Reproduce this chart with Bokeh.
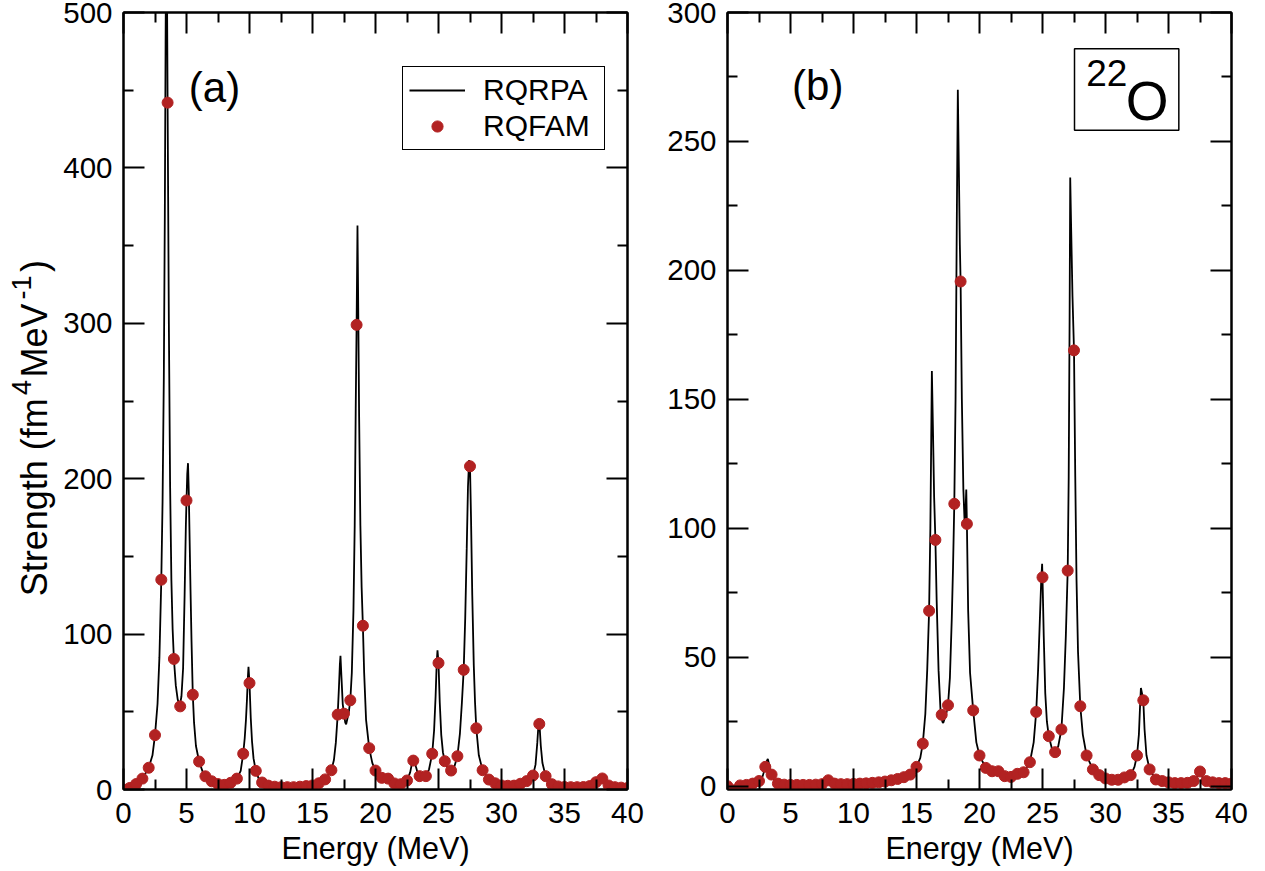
from bokeh.plotting import figure
from bokeh.layouts import row
from bokeh.models import (Range1d, FixedTicker, LinearAxis, Legend, LegendItem,
                          Label, BoxAnnotation)
from bokeh.embed import file_html
from bokeh.resources import INLINE
import math

FONT = "Liberation Sans"

# ---------------- data ----------------
ENERGY_GRID = [0.0, 0.5, 1.0, 1.5, 2.0, 2.5, 3.0, 3.5, 4.0, 4.5, 5.0, 5.5, 6.0, 6.5, 7.0, 7.5,
               8.0, 8.5, 9.0, 9.5, 10.0, 10.5, 11.0, 11.5, 12.0, 12.5, 13.0, 13.5, 14.0, 14.5,
               15.0, 15.5, 16.0, 16.5, 17.0, 17.5, 18.0, 18.5, 19.0, 19.5, 20.0, 20.5, 21.0,
               21.5, 22.0, 22.5, 23.0, 23.5, 24.0, 24.5, 25.0, 25.5, 26.0, 26.5, 27.0, 27.5,
               28.0, 28.5, 29.0, 29.5, 30.0, 30.5, 31.0, 31.5, 32.0, 32.5, 33.0, 33.5, 34.0,
               34.5, 35.0, 35.5, 36.0, 36.5, 37.0, 37.5, 38.0, 38.5, 39.0, 39.5, 40.0]

RQFAM_A = [0, 1, 3.5, 7, 14, 35, 135, 442, 84, 53.5, 186, 61, 18, 8.5, 5.3, 3.5,
           3, 4.3, 7, 23, 68.5, 12, 4.5, 2.5, 1.8, 1.5, 1.5, 1.5, 1.8, 2.2,
           2.6, 4, 6.5, 12.4, 48.2, 48.8, 57.4, 299, 105.4, 26.6, 12.2, 7.5, 7,
           3.9, 3.4, 5.8, 18.6, 8.6, 8.6, 23, 81.4, 18.2, 12.2, 21.4, 77, 208,
           39.4, 12.4, 6.4, 4, 2.6, 2.4, 2.5, 3.7, 5.4, 9, 42.2, 8.6, 3.4,
           2, 1.6, 1.5, 1.5, 1.6, 2.2, 4.7, 7.1, 2.6, 1.5, 1.2, 1]

RQFAM_B = [0, -1.6, 0.3, 0.5, 1, 2, 7.5, 4.5, 1, 0.6, 0.5, 0.5, 0.5, 0.5, 0.6, 0.8,
           2.3, 1, 0.8, 0.8, 0.9, 1, 1.1, 1.3, 1.5, 1.8, 2.3, 2.8, 3.5, 4.5,
           7.5, 16.5, 68, 95.5, 27.7, 31.4, 109.5, 195.7, 101.7, 29.4, 11.9, 7.1, 5.8,
           5.8, 3.9, 3.6, 4.8, 5.4, 9.3, 28.8, 81, 19.4, 13.2, 22, 83.6, 169,
           31, 11.9, 6.5, 4.3, 3, 2.5, 2.5, 3.4, 4.3, 11.9, 33.3, 6.5, 2.6,
           2, 1.5, 1.2, 1.2, 1.3, 2, 5.7, 2, 1.5, 1.2, 1.2, 1]

RQRPA_A_E = [0.0, 0.5, 1.0, 1.5, 2.0, 2.3, 2.5, 2.7, 2.85, 3.0, 3.1, 3.2, 3.28, 3.34, 3.4,
             3.45, 3.5, 3.6, 3.7, 3.8, 3.9, 4.0, 4.15, 4.3, 4.47, 4.6, 4.73, 4.85, 4.95,
             5.0, 5.06, 5.12, 5.18, 5.25, 5.32, 5.4, 5.5, 5.6, 5.75, 6.0, 6.3, 6.5, 7.0,
             7.5, 8.0, 8.5, 9.0, 9.3, 9.5, 9.62, 9.72, 9.8, 9.87, 9.92, 10.0, 10.1, 10.2,
             10.32, 10.5, 10.75, 11.0, 11.5, 12.0, 13.0, 14.0, 14.5, 15.0, 15.5, 16.0,
             16.5, 16.7, 16.85, 17.0, 17.1, 17.17, 17.22, 17.3, 17.4, 17.5, 17.6, 17.67,
             17.78, 17.9, 18.0, 18.12, 18.25, 18.35, 18.43, 18.5, 18.57, 18.63, 18.7,
             18.8, 18.9, 19.0, 19.1, 19.25, 19.5, 19.75, 20.0, 20.5, 20.8, 21.0, 21.2,
             21.5, 22.0, 22.5, 22.75, 22.9, 23.0, 23.08, 23.2, 23.35, 23.5, 23.8, 24.0,
             24.25, 24.5, 24.65, 24.77, 24.86, 24.92, 25.0, 25.1, 25.22, 25.35, 25.5,
             25.75, 26.0, 26.25, 26.5, 26.7, 26.85, 27.0, 27.12, 27.24, 27.34, 27.43,
             27.5, 27.58, 27.68, 27.8, 27.9, 28.0, 28.2, 28.5, 29.0, 29.5, 30.0, 30.5,
             31.0, 31.5, 32.0, 32.5, 32.7, 32.84, 32.92, 32.97, 33.03, 33.12, 33.25,
             33.5, 34.0, 34.5, 35.0, 36.0, 37.0, 37.5, 37.8, 37.95, 38.1, 38.3, 38.5,
             39.0, 39.5, 40.0]
RQRPA_A_S = [0.3, 1.0, 3.5, 7, 14, 22, 35, 55, 85, 135, 185, 265, 370, 480, 575,
             520, 442, 300, 195, 135, 103, 84, 67, 58, 54, 60, 78, 125, 170,
             186, 203, 210, 192, 160, 128, 95, 61, 43, 28, 18, 11, 8.5, 5.3,
             3.5, 3.0, 4.3, 7, 12, 23, 33, 45, 58, 72, 79, 68.5, 46, 31,
             20, 12, 6.5, 4.5, 2.5, 1.8, 1.5, 1.8, 2.2, 2.6, 4, 6.5,
             12.4, 19, 30, 48, 66, 80, 86, 72, 55, 48.8, 43, 42,
             46, 51, 57.4, 75, 115, 170, 245, 299, 363, 310, 240,
             170, 130, 105, 75, 45, 26.6, 17, 12.2, 7.5, 6.8, 7, 5.5,
             3.9, 3.4, 5.8, 11, 17, 18.6, 19.5, 15, 10.5, 8.6, 7.8, 8.6,
             13, 23, 38, 60, 82, 89.5, 81.4, 56, 35, 24, 18.2,
             13.5, 12.2, 14.5, 21.4, 36, 55, 77, 110, 155, 195, 212,
             208, 175, 125, 80, 56, 39.4, 22, 12.4, 6.4, 4, 2.6, 2.4,
             2.5, 3.7, 5.4, 9, 16, 30, 40, 43.5, 40, 28, 17,
             8.6, 3.4, 2, 1.6, 1.5, 2.2, 4.7, 6.8, 7.3, 6, 3.8, 2.6,
             1.5, 1.2, 1]

RQRPA_B_E = [0.0, 0.5, 1.0, 1.5, 2.0, 2.5, 2.8, 3.0, 3.1, 3.2, 3.3, 3.5, 3.75, 4.0, 4.5,
             5.0, 6.0, 7.0, 7.5, 8.0, 8.5, 9.0, 10.0, 11.0, 12.0, 13.0, 13.5, 14.0, 14.5,
             15.0, 15.3, 15.5, 15.7, 15.85, 16.0, 16.1, 16.17, 16.22, 16.3, 16.4, 16.5,
             16.6, 16.75, 16.9, 17.05, 17.12, 17.25, 17.4, 17.5, 17.65, 17.8, 17.9, 18.0,
             18.1, 18.2, 18.28, 18.36, 18.44, 18.5, 18.6, 18.72, 18.82, 18.9, 18.95, 19.0,
             19.1, 19.25, 19.5, 19.75, 20.0, 20.5, 20.85, 21.0, 21.15, 21.5, 22.0, 22.5,
             23.0, 23.5, 24.0, 24.3, 24.5, 24.65, 24.8, 24.9, 24.97, 25.0, 25.1, 25.22,
             25.35, 25.5, 25.75, 26.0, 26.25, 26.5, 26.7, 26.85, 27.0, 27.08, 27.15, 27.2,
             27.28, 27.38, 27.5, 27.6, 27.7, 27.82, 28.0, 28.2, 28.5, 29.0, 29.5, 30.0,
             30.5, 31.0, 31.5, 32.0, 32.3, 32.5, 32.65, 32.75, 32.81, 32.9, 33.0, 33.1,
             33.25, 33.5, 34.0, 34.5, 35.0, 36.0, 36.5, 37.0, 37.3, 37.45, 37.6, 37.8,
             38.0, 39.0, 40.0]
RQRPA_B_S = [0, 0.1, 0.3, 0.5, 1, 2, 4, 7.5, 9.5, 10.6, 8.5, 4.5, 2, 1, 0.6,
             0.5, 0.5, 0.6, 0.8, 1.2, 1, 0.8, 0.9, 1.1, 1.5, 2.3, 2.8, 3.5, 4.5,
             7.5, 11, 16.5, 28, 45, 68, 100, 135, 161, 140, 112, 95.5,
             72, 45, 30, 25, 24.5, 26.5, 29, 31.4, 42, 65, 85, 109.5,
             150, 220, 270, 240, 210, 195.7, 150, 115, 102, 108, 115, 101.7,
             68, 44, 29.4, 17, 11.9, 7.1, 6.2, 7.5, 6.2, 5.8, 3.9, 3.6,
             4.8, 5.4, 9.3, 17, 28.8, 45, 66, 80, 86.2, 81, 58, 36,
             25, 19.4, 14.5, 13.2, 15.5, 22, 38, 58, 83.6, 120, 180, 236,
             215, 190, 169, 120, 80, 52, 31, 20, 11.9, 6.5, 4.3, 3,
             2.5, 2.5, 3.4, 4.3, 7.5, 11.9, 20, 32, 38.1, 36, 33.3, 22,
             12, 6.5, 2.6, 2, 1.5, 1.2, 1.3, 2, 3.8, 5.7, 4.2, 2.6,
             2, 1.2, 1]

X_TICKS = [0, 5, 10, 15, 20, 25, 30, 35, 40]
X_MINOR = [2.5, 7.5, 12.5, 17.5, 22.5, 27.5, 32.5, 37.5]
Y_TICKS_A = [0, 100, 200, 300, 400, 500]
Y_MINOR_A = [50, 150, 250, 350, 450]
Y_TICKS_B = [0, 50, 100, 150, 200, 250, 300]
Y_MINOR_B = [25, 75, 125, 175, 225, 275]

SERIES_NAMES = ["RQRPA", "RQFAM"]
X_TITLE = "Energy (MeV)"
# y title pieces: (text, is_superscript, gap after it in px)
Y_TITLE_PARTS = [("Strength (fm", False, 16), ("4", True, 8), ("MeV", False, 10),
                 ("-1", True, 6), (")", False, 0)]
DOT_COLOR = "#B22222"

# Arial-metric advance widths (per 1000 em) used to chain the y-title pieces
ADV = {"S": 667, "t": 278, "r": 333, "e": 556, "n": 556, "g": 556, "h": 556, " ": 278,
       "(": 333, ")": 333, "f": 278, "m": 833, "M": 833, "V": 667, "4": 556, "-": 333, "1": 556}

PAGE_H = 867
TITLE_W = 60


def style_axis(ax, show_labels, label_standoff):
    ax.axis_line_color = "black"
    ax.axis_line_width = 2
    ax.major_tick_line_color = "black"
    ax.minor_tick_line_color = "black"
    ax.major_tick_line_width = 2
    ax.minor_tick_line_width = 2
    ax.major_tick_in = 21
    ax.major_tick_out = 0
    ax.minor_tick_in = 10
    ax.minor_tick_out = 0
    ax.major_label_text_font = FONT
    if show_labels:
        ax.major_label_text_color = "black"
        ax.major_label_text_font_size = "29.5px"
        ax.major_label_standoff = label_standoff
    else:
        ax.major_label_text_color = None
        ax.major_label_text_alpha = 0
        ax.major_label_text_font_size = "1px"
        ax.major_label_standoff = 0
    ax.axis_label_text_font = FONT
    ax.axis_label_text_font_size = "30.5px"
    ax.axis_label_text_font_style = "normal"
    ax.axis_label_text_color = "black"


def make_panel(width, y_lo, y_hi, yt, ym, left_border, right_border):
    p = figure(width=width, height=PAGE_H, x_range=Range1d(0, 40), y_range=Range1d(y_lo, y_hi),
               output_backend="svg", toolbar_location=None,
               min_border_left=left_border, min_border_right=right_border,
               min_border_top=12, min_border_bottom=77)
    p.background_fill_color = "white"
    p.border_fill_color = "white"
    p.outline_line_color = "black"
    p.outline_line_width = 2
    p.xgrid.visible = False
    p.ygrid.visible = False
    p.xaxis.ticker = FixedTicker(ticks=X_TICKS, minor_ticks=X_MINOR)
    p.yaxis.ticker = FixedTicker(ticks=yt, minor_ticks=ym)
    style_axis(p.xaxis[0], True, 13)
    style_axis(p.yaxis[0], True, 11)
    p.xaxis.axis_label = X_TITLE
    p.xaxis.axis_label_standoff = 5
    top = LinearAxis(ticker=FixedTicker(ticks=X_TICKS, minor_ticks=X_MINOR))
    style_axis(top, False, 0)
    top.axis_label_standoff = 0
    p.add_layout(top, "above")
    right = LinearAxis(ticker=FixedTicker(ticks=yt, minor_ticks=ym))
    style_axis(right, False, 0)
    right.axis_label_standoff = 0
    p.add_layout(right, "right")
    return p


# ---------------- y title strip (left of panel a) ----------------
pt = figure(width=TITLE_W, height=PAGE_H, x_range=Range1d(0, TITLE_W), y_range=Range1d(PAGE_H, 0),
            output_backend="svg", toolbar_location=None, min_border=0,
            x_axis_type=None, y_axis_type=None)
pt.outline_line_color = None
pt.background_fill_color = "white"
pt.border_fill_color = "white"

MAIN_PX, SUP_PX = 36, 27
base_main, base_sup = 47, 30      # x of the text baselines inside the strip
start = 640                       # y where the title begins (its bottom end)
for txt, sup, gap in Y_TITLE_PARTS:
    fs = SUP_PX if sup else MAIN_PX
    base = base_sup if sup else base_main
    length = sum(ADV[c] for c in txt) * fs / 1000.0
    pt.add_layout(Label(x=base - 0.35 * fs, y=start - length / 2, text=txt, angle=math.pi / 2,
                        text_font=FONT, text_font_size=f"{fs}px", text_align="center",
                        text_baseline="middle", text_color="black"))
    start -= length + gap

# ---------------- panel (a) ----------------
pa = make_panel(657 - TITLE_W, 0, 500, Y_TICKS_A, Y_MINOR_A, 123 - TITLE_W, 30)
ln_a = pa.line(RQRPA_A_E, RQRPA_A_S, line_color="black", line_width=1.8)
sc_a = pa.scatter(ENERGY_GRID, RQFAM_A, size=11, fill_color=DOT_COLOR, line_color=DOT_COLOR)

leg = Legend(items=[LegendItem(label=SERIES_NAMES[0], renderers=[ln_a]),
                    LegendItem(label=SERIES_NAMES[1], renderers=[sc_a])],
             location=(279, 639), margin=0, padding=6, spacing=2,
             glyph_width=56, glyph_height=28, label_height=28, label_width=115,
             label_standoff=18, label_text_font=FONT, label_text_font_size="30px",
             label_text_color="black", border_line_color="black", border_line_width=1.2,
             border_line_alpha=1.0, background_fill_color="white", background_fill_alpha=1.0)
pa.add_layout(leg)

pa.add_layout(Label(x=7.22, y=451.5, text="(a)", text_font=FONT, text_font_size="42px",
                    text_align="center", text_baseline="alphabetic", text_color="black"))

# ---------------- panel (b) ----------------
pb = make_panel(594, -1.28, 300, Y_TICKS_B, Y_MINOR_B, 70, 20)
pb.line(RQRPA_B_E, RQRPA_B_S, line_color="black", line_width=1.8)
pb.scatter(ENERGY_GRID, RQFAM_B, size=11, fill_color=DOT_COLOR, line_color=DOT_COLOR)

pb.add_layout(Label(x=7.16, y=271.8, text="(b)", text_font=FONT, text_font_size="42px",
                    text_align="center", text_baseline="alphabetic", text_color="black"))
pb.add_layout(BoxAnnotation(left=27.54, right=35.82, bottom=254.3, top=285.9,
                            fill_alpha=0, line_color="black", line_alpha=1.0, line_width=1.5))
pb.add_layout(Label(x=28.47, y=276.4, text="22", text_font=FONT, text_font_size="37px",
                    text_align="left", text_baseline="alphabetic", text_color="black"))
pb.add_layout(Label(x=31.6, y=265.5, text="O", text_font=FONT, text_font_size="55px",
                    text_align="left", text_baseline="alphabetic", text_color="black"))

layout = row(pt, pa, pb)
open("out.html", "w").write(file_html(layout, INLINE))
